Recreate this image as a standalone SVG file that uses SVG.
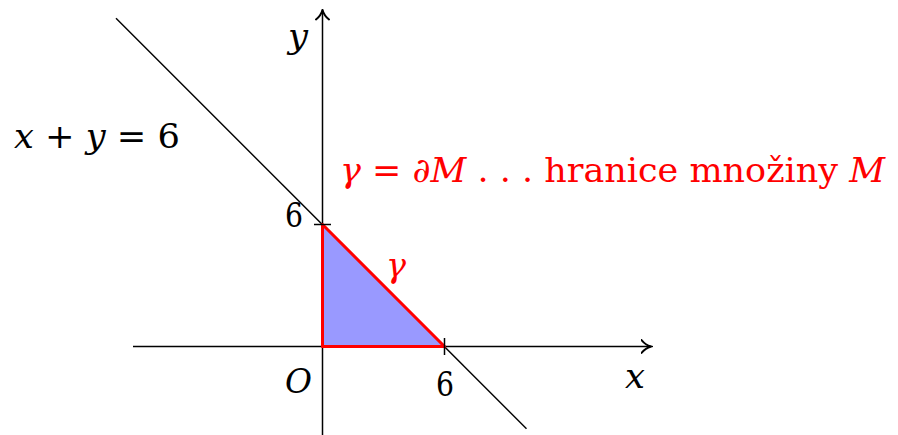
<svg xmlns="http://www.w3.org/2000/svg" width="898" height="435" viewBox="0 0 898 435">
<defs>
<style>
.ax{stroke:#000;stroke-width:1.5;fill:none}
.t{font-family:'DejaVu Serif',serif;font-size:34px;fill:#000}
.i{font-style:italic}
.r{fill:#ff0000}
</style>
<marker id="arr" viewBox="0 0 12 16" refX="10.5" refY="8" markerWidth="12" markerHeight="16" markerUnits="userSpaceOnUse" orient="auto">
<path d="M1,1.5 Q5,6.5 10.5,8 Q5,9.5 1,14.5" fill="none" stroke="#000" stroke-width="2" stroke-linecap="round"/>
</marker>
</defs>
<g id="connectors">
<line id="xaxis" class="ax" x1="133" y1="346.5" x2="651" y2="346.5" marker-end="url(#arr)"/>
<line id="yaxis" class="ax" x1="322.5" y1="435" x2="322.5" y2="10" marker-end="url(#arr)"/>
<line id="line" class="ax" x1="116" y1="18.2" x2="526.5" y2="428.7"/>
</g>
<g id="region">
<polygon points="322.5,346.5 444.5,346.5 322.5,224.5" fill="#9999ff" stroke="#ff0000" stroke-width="3" stroke-linejoin="round"/>
</g>
<g id="ticks">
<line class="ax" x1="314" y1="224.5" x2="331" y2="224.5"/>
<line class="ax" x1="444.5" y1="338" x2="444.5" y2="355"/>
</g>
<g id="labels">
<text class="t i" x="288" y="48" textLength="20" lengthAdjust="spacingAndGlyphs">y</text>
<text class="t" x="14" y="148" textLength="166" lengthAdjust="spacingAndGlyphs"><tspan class="i">x</tspan> + <tspan class="i">y</tspan> = 6</text>
<text class="t" x="285" y="227" textLength="18" lengthAdjust="spacingAndGlyphs">6</text>
<text class="t" x="436" y="396" textLength="18" lengthAdjust="spacingAndGlyphs">6</text>
<text class="t i" x="285" y="393" textLength="27" lengthAdjust="spacingAndGlyphs">O</text>
<text class="t i" x="625" y="388" textLength="20" lengthAdjust="spacingAndGlyphs">x</text>
<text class="t i r" x="386" y="277" textLength="20" lengthAdjust="spacingAndGlyphs">γ</text>
<text class="t r" x="340" y="182" textLength="545" lengthAdjust="spacingAndGlyphs"><tspan class="i">γ</tspan> = <tspan class="i">∂M</tspan> . . . hranice množiny <tspan class="i">M</tspan></text>
</g>
</svg>
